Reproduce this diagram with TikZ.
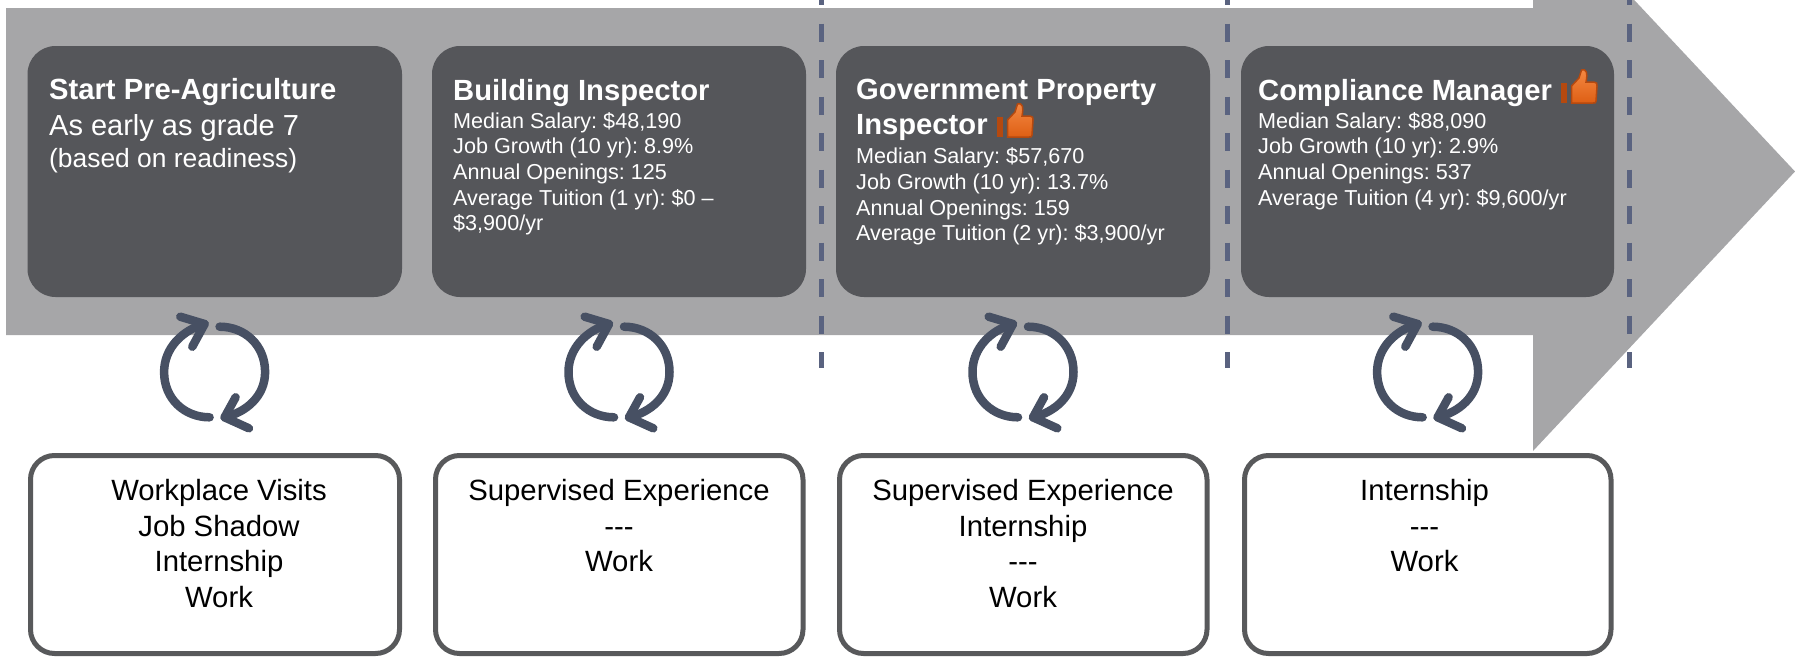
\documentclass[tikz,border=0pt]{standalone}
\usepackage{fontspec}
\setmainfont{Liberation Sans}
\frenchspacing
\definecolor{arrowgrey}{HTML}{A6A6A8}
\definecolor{darkbox}{HTML}{55565A}
\definecolor{frameline}{HTML}{58595B}
\definecolor{dashblue}{HTML}{5A6380}
\definecolor{cycleblue}{HTML}{475063}
\definecolor{thumbedge}{HTML}{B5490F}
\definecolor{thumbtop}{HTML}{F58A45}
\definecolor{thumbbot}{HTML}{DE5F14}
\newcommand{\ttl}{\fontsize{29.2}{25.6}\selectfont\bfseries}
\newcommand{\bdy}{\fontsize{21.6}{25.6}\selectfont}
\newcommand{\hyph}{-\kern0pt-\kern0pt-}
\tikzset{
  x=1pt,y=-1pt,
  shaft/.style={fill=arrowgrey,draw=none},
  divider/.style={draw=dashblue,line width=5pt,dash pattern=on 18pt off 18.5pt},
  darkcard/.style={fill=darkbox,draw=none,rounded corners=28pt},
  framecard/.style={fill=white,draw=frameline,line width=5pt,rounded corners=24pt},
  cardtext/.style={anchor=north west,inner sep=0pt,text=white,align=left,font=\bdy},
  frametext/.style={anchor=north,inner sep=0pt,text=black,align=center,font=\fontsize{29.3}{35.6}\selectfont},
  cyc/.style={draw=cycleblue,line width=8.5pt,line cap=round,line join=round},
  pics/cycle/.style={code={
    \draw[cyc] (-5,45.3) .. controls (-30,45.3) and (-50.5,27) .. (-50.5,0) .. controls (-50.5,-24) and (-32,-42) .. (-10,-48);
    \draw[cyc] (-34.3,-55.3) -- (-10,-48) -- (-22.3,-25.3);
    \draw[cyc] (5,-45.3) .. controls (30,-45.3) and (50.5,-27) .. (50.5,0) .. controls (50.5,24) and (32,40) .. (10,45.3);
    \draw[cyc] (21,25.3) -- (10,45.3) -- (34.3,56.3);
  }},
  pics/thumb/.style={code={
    \fill[thumbedge] (0,-20) rectangle (6,0);
    \draw[thumbedge,line width=1.5pt,top color=thumbtop,bottom color=thumbbot]
      (10.5,-17) -- (18,-25) -- (20.5,-33) .. controls (25,-35) and (27,-30) .. (25,-21)
      -- (33,-21) .. controls (36,-21) and (36,-19) .. (36,-17) -- (35,-2) .. controls (35,0) and (34,0) .. (32,0)
      -- (10.5,0) -- cycle;
  }},
}
\begin{document}
\begin{tikzpicture}
\useasboundingbox (0,0) rectangle (1795,656);
\fill[shaft] (6,8) -- (1533,8) -- (1533,-108) -- (1795,171.5) -- (1533,451) -- (1533,335) -- (6,335) -- cycle;
\coordinate (d1t) at (821,-13); \coordinate (d1b) at (821,368);
\coordinate (d2t) at (1227,-13); \coordinate (d2b) at (1227,368);
\coordinate (d3t) at (1629,-13); \coordinate (d3b) at (1629,368);
\draw[divider] (d1t) -- (d1b);
\draw[divider] (d2t) -- (d2b);
\draw[divider] (d3t) -- (d3b);
\fill[darkcard] (27.5,46) rectangle (402,297);
\fill[darkcard] (432,46) rectangle (806,297);
\fill[darkcard] (836,46) rectangle (1210,297);
\fill[darkcard] (1241,46) rectangle (1614,297);
\node[cardtext] (t1) at (49,78.5) {{\ttl Start Pre-Agriculture}\\[7pt]{\fontsize{29}{25.6}\selectfont As early as grade 7}\\[7.3pt]{\fontsize{26.4}{25.6}\selectfont (based on readiness)}};
\node[cardtext] (t2) at (453,79.4) {{\ttl Building Inspector}\\[2pt]Median Salary: \$48,190\\Job Growth (10 yr): 8.9\%\\Annual Openings: 125\\Average Tuition (1 yr): \$0 --\\\$3,900/yr};
\node[cardtext] (t3) at (856,79.4) {{\ttl Government Property}\\[7.7pt]{\ttl Inspector}\\[3.4pt]Median Salary: \$57,670\\Job Growth (10 yr): 13.7\%\\Annual Openings: 159\\Average Tuition (2 yr): \$3,900/yr};
\node[cardtext] (t4) at (1258,79.4) {{\ttl Compliance Manager}\\[2pt]Median Salary: \$88,090\\Job Growth (10 yr): 2.9\%\\Annual Openings: 537\\Average Tuition (4 yr): \$9,600/yr};
\pic at (997,137) {thumb};
\pic at (1561,103) {thumb};
\pic at (214.6,372) {cycle};
\pic at (619,372) {cycle};
\pic at (1023,372) {cycle};
\pic at (1427.6,372) {cycle};
\draw[framecard] (30.5,455.5) rectangle (399.5,653.5);
\draw[framecard] (435.5,455.5) rectangle (803,653.5);
\draw[framecard] (839.5,455.5) rectangle (1207,653.5);
\draw[framecard] (1244.5,455.5) rectangle (1611,653.5);
\node[frametext] (w1) at (219,479) {Workplace Visits\\Job Shadow\\Internship\\Work};
\node[frametext] (w2) at (619,479) {Supervised Experience\\\hyph\\Work};
\node[frametext] (w3) at (1023,479) {Supervised Experience\\Internship\\\hyph\\Work};
\node[frametext] (w4) at (1424.5,479) {Internship\\\hyph\\Work};
\end{tikzpicture}
\end{document}
